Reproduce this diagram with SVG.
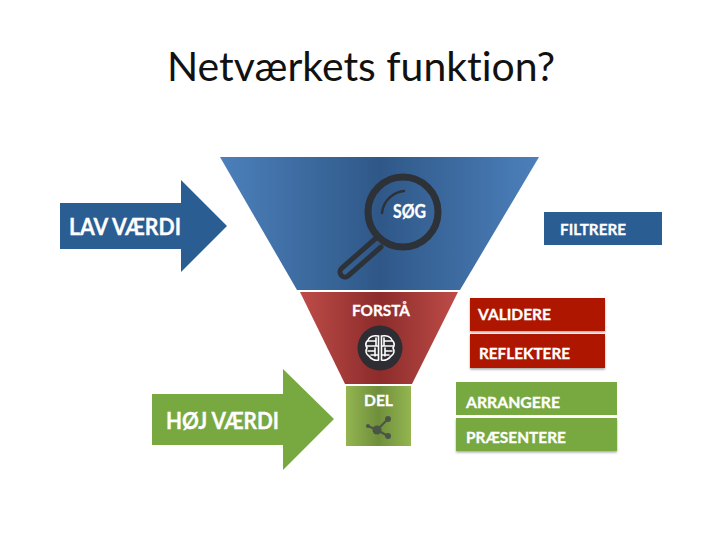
<svg xmlns="http://www.w3.org/2000/svg" width="720" height="540" viewBox="0 0 720 540">
<style>
text{font-family:Lato,"Liberation Sans",sans-serif;font-variant-ligatures:none}
.t{font-weight:700;fill:#fff;stroke:#fff;stroke-width:.3}
.blue{fill:#2a5d92}.red{fill:#ae1505}.green{fill:#78a940}
.shadow{filter:url(#sh)}
.ic{fill:none;stroke:#2d3138;stroke-linecap:round}
.br{fill:none;stroke:#fff;stroke-width:1.600;stroke-linecap:round}
</style>
<defs>
<linearGradient id="gb" x1="0" x2="1" y1="0" y2="0"><stop offset="0" stop-color="#4c80bb"/><stop offset=".5" stop-color="#2f5888"/><stop offset="1" stop-color="#4c80bb"/></linearGradient>
<linearGradient id="gr" x1="0" x2="1" y1="0" y2="0"><stop offset="0" stop-color="#be4c48"/><stop offset=".5" stop-color="#8c2c2b"/><stop offset="1" stop-color="#be4c48"/></linearGradient>
<linearGradient id="gg" x1="0" x2="1" y1="0" y2="0"><stop offset="0" stop-color="#94b550"/><stop offset=".5" stop-color="#6f8f3c"/><stop offset="1" stop-color="#94b550"/></linearGradient>
<filter id="sh" x="-5%" y="-10%" width="110%" height="125%"><feDropShadow dx="0" dy="1.5" stdDeviation="1.2" flood-color="#000" flood-opacity=".35"/></filter>
</defs>
<text x="167" y="81" font-size="40" fill="#111" textLength="388" lengthAdjust="spacingAndGlyphs">Netværkets funktion?</text>
<g id="lav-vaerdi"><path class="blue" d="M60 203H181V180L227 226L181 272V249H60Z"/><text class="t" x="69" y="234.500" font-size="22" textLength="112" lengthAdjust="spacingAndGlyphs">LAV VÆRDI</text></g>
<g id="hoj-vaerdi"><path class="green" d="M152 394H283V369L334 419L283 470V445H152Z"/><text class="t" x="166" y="429" font-size="22" textLength="113" lengthAdjust="spacingAndGlyphs">HØJ VÆRDI</text></g>
<g id="sog">
<path fill="url(#gb)" d="M220 157H539L460 290H297Z"/>
<circle class="ic" cx="403" cy="212" r="35" stroke-width="7"/>
<path class="ic" stroke-width="2.500" d="M382 213C383 201 393 192 404 191"/>
<path class="ic" stroke-width="5" d="M375 239L342 268A5 5 0 0 0 348 276L381 247"/>
<text class="t" x="393" y="218" font-size="18" textLength="33" lengthAdjust="spacingAndGlyphs">SØG</text>
</g>
<g id="forsta">
<path fill="url(#gr)" d="M300 292H458L412 384H345Z"/>
<text class="t" x="352" y="316" font-size="16" textLength="58" lengthAdjust="spacingAndGlyphs">FORSTÅ</text>
<circle cx="380" cy="348" r="22.500" fill="#2d2d33"/>
<path class="br" d="M378.500 336C373 335 369 337 368 340C366 342 365 345 367 348C365 351 366 354 369 356C371 359 375 361 378.500 360ZM381.500 336C387 335 391 337 392 340C394 342 395 345 393 348C395 351 394 354 391 356C389 359 385 361 381.500 360Z"/>
<path class="br" stroke-width="1.200" d="M368 341H376M376 338V345M367 346H378M368 351H375M375 348V356M371 355H378M392 341H384M384 338V345M393 346H382M392 351H385M385 348V356M389 355H382"/>
</g>
<g id="del">
<rect x="346" y="386" width="65" height="60" fill="url(#gg)"/>
<text class="t" x="364" y="406" font-size="15.500" textLength="29" lengthAdjust="spacingAndGlyphs">DEL</text>
<path d="M368 426L377 430L388 419M377 430L388 436" fill="none" stroke="#4a5548" stroke-width="2"/>
<circle cx="377" cy="430" r="4.500" fill="#4a5548"/><circle cx="388" cy="419" r="3" fill="#4a5548"/><circle cx="388" cy="436" r="3" fill="#4a5548"/><circle cx="368" cy="426" r="2" fill="#4a5548"/>
</g>
<g id="filtrere"><rect class="blue" x="544" y="212" width="118" height="33"/><text class="t" x="560" y="235" font-size="16" textLength="66" lengthAdjust="spacingAndGlyphs">FILTRERE</text></g>
<g id="validere"><rect class="red shadow" x="470" y="298" width="135" height="33"/><text class="t" x="478" y="320" font-size="16" textLength="73" lengthAdjust="spacingAndGlyphs">VALIDERE</text></g>
<g id="reflektere"><rect class="red shadow" x="470" y="334" width="135" height="34"/><text class="t" x="479" y="359" font-size="16" textLength="91" lengthAdjust="spacingAndGlyphs">REFLEKTERE</text></g>
<g id="arrangere"><rect class="green" x="456" y="382" width="161" height="33"/><text class="t" x="466" y="408" font-size="16" textLength="94" lengthAdjust="spacingAndGlyphs">ARRANGERE</text></g>
<g id="praesentere"><rect class="green shadow" x="456" y="418" width="161" height="33"/><text class="t" x="466" y="443" font-size="16" textLength="100" lengthAdjust="spacingAndGlyphs">PRÆSENTERE</text></g>
<g id="connectors"/>
</svg>
